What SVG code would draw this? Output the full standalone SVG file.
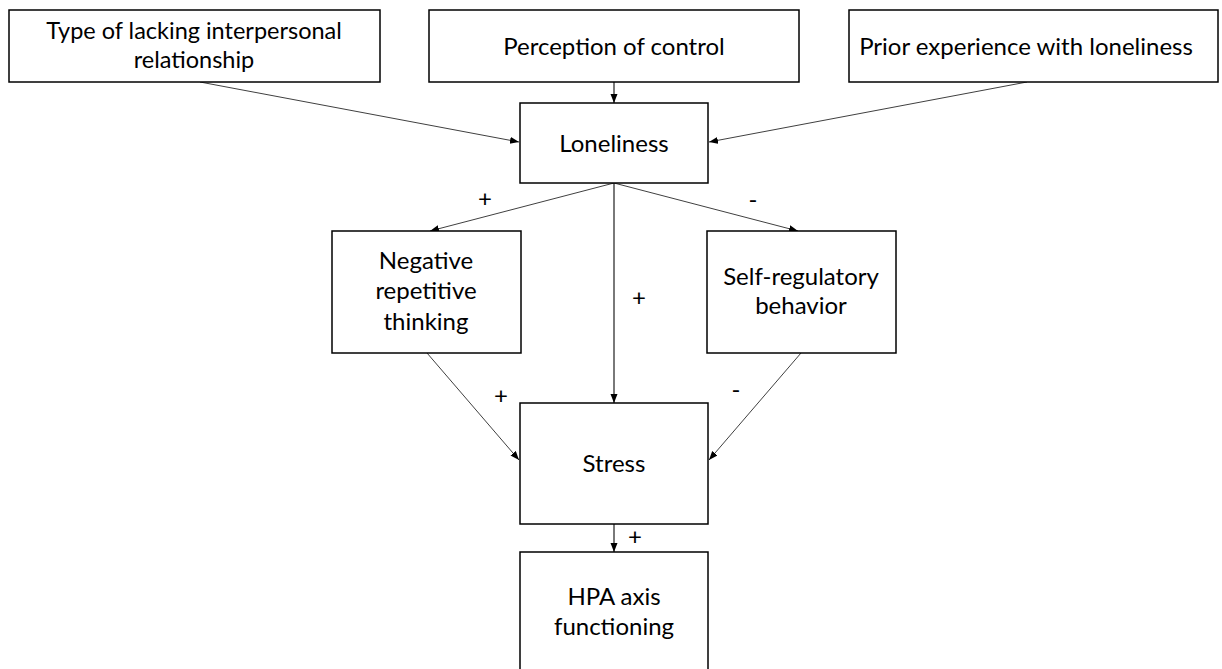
<svg xmlns="http://www.w3.org/2000/svg" width="1222" height="669" viewBox="0 0 1222 669">
  <style>
    .box { fill: #ffffff; stroke: #000000; stroke-width: 1.5; }
    .lbl { font-family: Lato, "Liberation Sans", sans-serif; font-size: 24px; fill: #000000; text-anchor: middle; }
    .lbl-sm { font-size: 23.5px; }
    .sign { font-family: Lato, "Liberation Sans", sans-serif; font-size: 24px; fill: #000000; text-anchor: middle; }
    .edge { fill: none; stroke: #404040; stroke-width: 1; marker-end: url(#head); }
    .edge-v { fill: none; stroke: #404040; stroke-width: 1.4; marker-end: url(#head); }
  </style>
  <defs>
    <marker id="head" markerUnits="userSpaceOnUse" markerWidth="10" markerHeight="8" refX="9" refY="3.5" orient="auto">
      <path d="M0,0 L9,3.5 L0,7 z" fill="#000000"/>
    </marker>
  </defs>
  <rect width="1222" height="669" fill="#ffffff"/>

  <!-- connectors and their +/- signs -->
  <g id="connectors">
    <line class="edge" x1="200" y1="82" x2="519" y2="142"/>
    <line class="edge-v" x1="614" y1="82" x2="614" y2="103"/>
    <line class="edge" x1="1027" y1="82" x2="709" y2="142"/>
    <line class="edge" x1="614" y1="183" x2="430" y2="231"/>
    <line class="edge" x1="614" y1="183" x2="798" y2="231"/>
    <line class="edge-v" x1="614" y1="183" x2="614" y2="403"/>
    <line class="edge" x1="427" y1="353" x2="519" y2="460"/>
    <line class="edge" x1="801" y1="353" x2="709" y2="460"/>
    <line class="edge-v" x1="614" y1="524" x2="614" y2="552"/>
    <text class="sign" x="485" y="207">+</text>
    <text class="sign" x="753" y="208">-</text>
    <text class="sign" x="639" y="306">+</text>
    <text class="sign" x="501" y="404">+</text>
    <text class="sign" x="736" y="398">-</text>
    <text class="sign" x="635" y="545">+</text>
  </g>

  <g id="type-of-relationship">
    <rect class="box" x="9" y="10" width="371" height="72"/>
    <text class="lbl lbl-sm" x="194" y="39">Type of lacking interpersonal</text>
    <text class="lbl lbl-sm" x="194" y="68">relationship</text>
  </g>

  <g id="perception-of-control">
    <rect class="box" x="429" y="10" width="370" height="72"/>
    <text class="lbl" x="614" y="55">Perception of control</text>
  </g>

  <g id="prior-experience">
    <rect class="box" x="849" y="10" width="369" height="72"/>
    <text class="lbl" x="1026" y="55">Prior experience with loneliness</text>
  </g>

  <g id="loneliness">
    <rect class="box" x="520" y="103" width="188" height="80"/>
    <text class="lbl" x="614" y="152">Loneliness</text>
  </g>

  <g id="negative-repetitive-thinking">
    <rect class="box" x="332" y="231" width="189" height="122"/>
    <text class="lbl" x="426" y="269">Negative</text>
    <text class="lbl" x="426" y="299">repetitive</text>
    <text class="lbl" x="426" y="330">thinking</text>
  </g>

  <g id="self-regulatory-behavior">
    <rect class="box" x="707" y="231" width="189" height="122"/>
    <text class="lbl" x="801" y="285">Self-regulatory</text>
    <text class="lbl" x="801" y="314">behavior</text>
  </g>

  <g id="stress">
    <rect class="box" x="520" y="403" width="188" height="121"/>
    <text class="lbl" x="614" y="472">Stress</text>
  </g>

  <g id="hpa-axis">
    <rect class="box" x="520" y="552" width="188" height="125"/>
    <text class="lbl" x="614" y="605">HPA axis</text>
    <text class="lbl" x="614" y="635">functioning</text>
  </g>
</svg>
